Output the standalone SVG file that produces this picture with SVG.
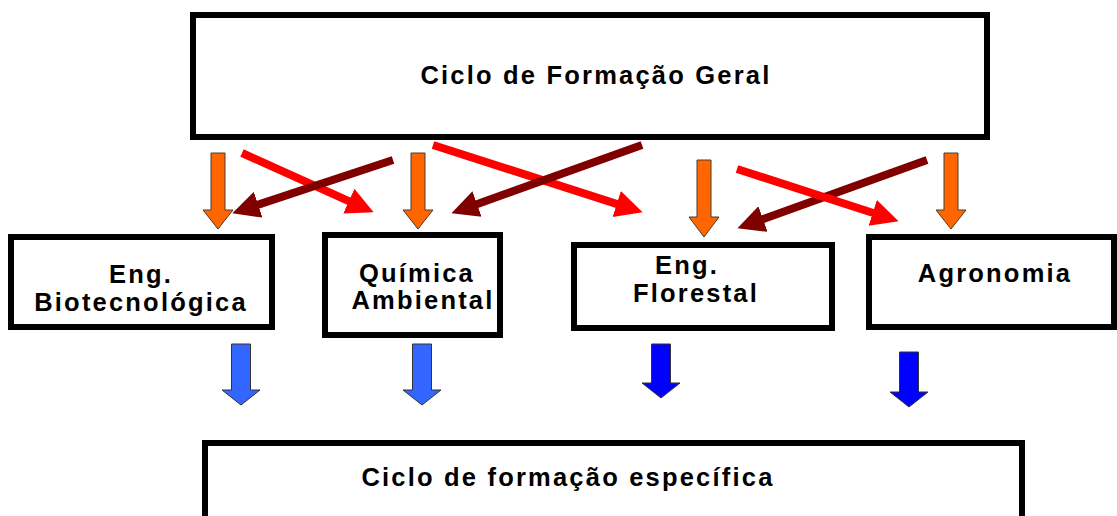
<svg xmlns="http://www.w3.org/2000/svg" width="1117" height="516" viewBox="0 0 1117 516">
<style>
.box{fill:#fff;stroke:#000;stroke-width:6}
.t{font-family:"Liberation Sans",Arial,sans-serif;font-weight:bold;font-size:25.5px;letter-spacing:2.2px;fill:#000;text-anchor:middle}
.orange{fill:#FF6600;stroke:#4a3a30;stroke-width:1}
.lblue{fill:#3366FF;stroke:#333;stroke-width:1}
.dblue{fill:#0000FF;stroke:#333;stroke-width:1}
.red{stroke:#FF0000;stroke-width:8;fill:none;marker-end:url(#hr)}
.dred{stroke:#800000;stroke-width:8;fill:none;marker-end:url(#hd)}
</style>
<defs>
<marker id="hr" viewBox="0 0 10 10" refX="2" refY="5" markerWidth="3.4" markerHeight="3.8" orient="auto"><path d="M0,0 L10,5 L0,10 z" fill="#FF0000"/></marker>
<marker id="hd" viewBox="0 0 10 10" refX="2" refY="5" markerWidth="3.4" markerHeight="3.8" orient="auto"><path d="M0,0 L10,5 L0,10 z" fill="#800000"/></marker>
</defs>
<rect width="1117" height="516" fill="#fff"/>
<g id="geral">
<rect class="box" x="193" y="15" width="794" height="122"/>
<text class="t" x="596" y="84">Ciclo de Formação Geral</text>
</g>
<g id="biotec">
<rect class="box" x="11" y="237" width="261" height="90"/>
<text class="t" x="141" y="283">Eng.</text>
<text class="t" x="141" y="311">Biotecnológica</text>
</g>
<g id="quimica">
<rect class="box" x="325" y="235" width="175" height="100"/>
<text class="t" x="417" y="282">Química</text>
<text class="t" x="423" y="309">Ambiental</text>
</g>
<g id="florestal">
<rect class="box" x="574" y="245" width="258" height="83"/>
<text class="t" x="687" y="274">Eng.</text>
<text class="t" x="696" y="302">Florestal</text>
</g>
<g id="agronomia">
<rect class="box" x="869" y="237" width="245" height="90"/>
<text class="t" x="995" y="282">Agronomia</text>
</g>
<g id="especifica">
<rect class="box" x="205" y="443" width="817" height="100"/>
<text class="t" x="568" y="486">Ciclo de formação específica</text>
</g>
<g id="connectors">
<path class="orange" d="M211,153 H225 V210 H233 L218,229 L203,210 H211 Z"/>
<path class="orange" d="M411,153 H425 V210 H433 L418,229 L403,210 H411 Z"/>
<path class="orange" d="M697,160 H711 V217 H719 L704,237 L689,217 H697 Z"/>
<path class="orange" d="M944,153 H958 V210 H966 L951,229 L936,210 H944 Z"/>
<line class="red" x1="242" y1="153" x2="353.8" y2="203.3"/>
<line class="dred" x1="393" y1="160" x2="253" y2="206.4"/>
<line class="red" x1="433" y1="145" x2="621.9" y2="205.6"/>
<line class="dred" x1="642" y1="145" x2="471.9" y2="205.9"/>
<line class="dred" x1="927" y1="160" x2="757.9" y2="220.9"/>
<line class="red" x1="737" y1="169" x2="877.9" y2="214.5"/>
<path class="lblue" d="M231.5,344 H250.5 V390 H260 L241,405 L222,390 H231.5 Z"/>
<path class="lblue" d="M412.5,344 H431.5 V390 H441 L422,405 L403,390 H412.5 Z"/>
<path class="dblue" d="M651.5,344 H670.5 V383 H680 L661,398 L642,383 H651.5 Z"/>
<path class="dblue" d="M899.5,352 H918.5 V392 H928 L909,407 L890,392 H899.5 Z"/>
</g>
</svg>
